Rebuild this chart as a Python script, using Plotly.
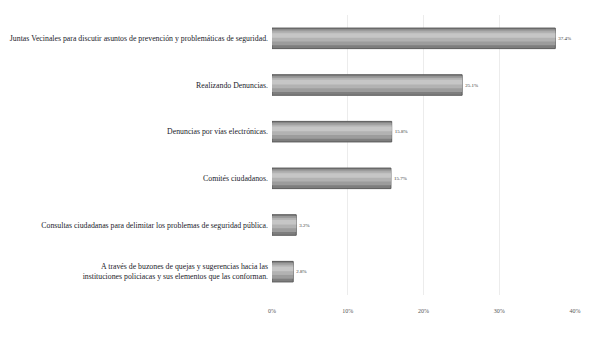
import plotly.graph_objects as go

categories = [
    "Juntas Vecinales para discutir asuntos de prevención y problemáticas de seguridad.",
    "Realizando Denuncias.",
    "Denuncias por vías electrónicas.",
    "Comités ciudadanos.",
    "Consultas ciudadanas para delimitar los problemas de seguridad pública.",
    "A través de buzones de quejas y sugerencias hacia las<br>instituciones policiacas y sus elementos que las conforman.",
]
values = [37.4, 25.1, 15.8, 15.7, 3.2, 2.8]
value_labels = ["37.4%", "25.1%", "15.8%", "15.7%", "3.2%", "2.8%"]
x_ticks = [0, 10, 20, 30, 40]
x_tick_labels = ["0%", "10%", "20%", "30%", "40%"]

fig = go.Figure()
# base cylinder body
fig.add_trace(go.Bar(
    y=categories, x=values, orientation="h", width=0.44,
    marker=dict(color="#7e7e7e", line=dict(color="#5a5a5a", width=1)),
    text=value_labels, textposition="outside", cliponaxis=False,
    textfont=dict(family="Liberation Serif", size=5, color="#333333"),
    hoverinfo="skip", showlegend=False,
))
# shading bands to suggest a cylinder
fig.add_trace(go.Bar(
    y=categories, x=values, orientation="h", width=0.34, offset=-0.19,
    marker=dict(color="#9c9c9c", line=dict(width=0)),
    hoverinfo="skip", showlegend=False,
))
fig.add_trace(go.Bar(
    y=categories, x=values, orientation="h", width=0.22, offset=-0.15,
    marker=dict(color="#b2b2b2", line=dict(width=0)),
    hoverinfo="skip", showlegend=False,
))
fig.add_trace(go.Bar(
    y=categories, x=values, orientation="h", width=0.10, offset=-0.11,
    marker=dict(color="#c6c6c6", line=dict(width=0)),
    hoverinfo="skip", showlegend=False,
))

fig.update_layout(
    width=600, height=338,
    margin=dict(l=264, r=33, t=7, b=51),
    paper_bgcolor="white", plot_bgcolor="white",
    barmode="overlay",
    font=dict(family="Liberation Serif", color="#1a1a2a"),
    xaxis=dict(
        range=[0, 40], tickvals=x_ticks, ticktext=x_tick_labels,
        showgrid=True, gridcolor="#ececec", gridwidth=1,
        zeroline=False, showline=False, automargin=False,
        tickfont=dict(size=6, color="#555555"), ticklabelstandoff=11,
    ),
    yaxis=dict(
        autorange="reversed", showgrid=False, zeroline=False, showline=False,
        automargin=False,
        tickfont=dict(size=7.8, color="#1a1a2a"), ticks="", ticklabelstandoff=3,
    ),
)

fig.write_html("out.html")
